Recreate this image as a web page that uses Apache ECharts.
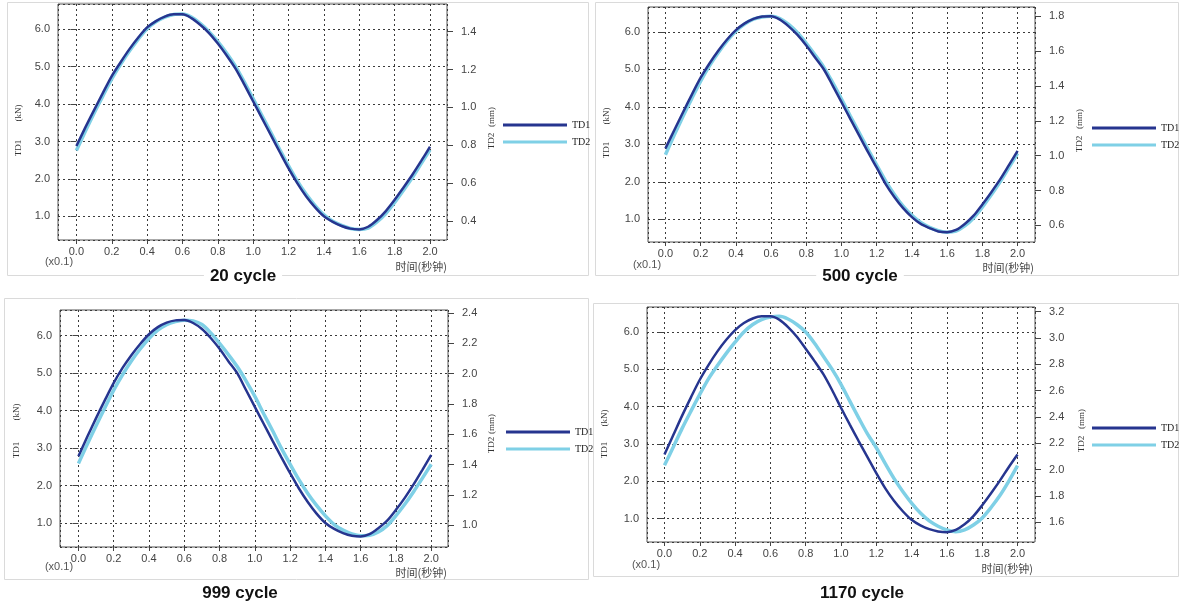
<!DOCTYPE html>
<html>
<head>
<meta charset="utf-8">
<script src="https://cdn.jsdelivr.net/npm/echarts@6/dist/echarts.min.js"></script>
<style>
  html, body { margin: 0; padding: 0; background: #fff; }
  #chart { width: 1180px; height: 605px; }
</style>
</head>
<body>
<div id="chart"></div>
<script>
// 时间 (x0.1 秒)
const timeData = [0, 0.05, 0.1, 0.15, 0.2, 0.25, 0.3, 0.35, 0.4, 0.45, 0.5, 0.55, 0.6, 0.65, 0.7, 0.75, 0.8, 0.85, 0.9, 0.95,
  1, 1.05, 1.1, 1.15, 1.2, 1.25, 1.3, 1.35, 1.4, 1.45, 1.5, 1.55, 1.6, 1.65, 1.7, 1.75, 1.8, 1.85, 1.9, 1.95, 2];

const cycleTitles = ["20 cycle", "500 cycle", "999 cycle", "1170 cycle"];
const seriesNames = ["TD1", "TD2"];

// TD1 (kN) 左轴
const td1Cycle20 = [2.88, 3.37, 3.84, 4.3, 4.75, 5.12, 5.47, 5.78, 6.05, 6.22, 6.34, 6.4, 6.4, 6.3, 6.12, 5.9, 5.62, 5.3, 4.95, 4.52,
  4.07, 3.62, 3.17, 2.72, 2.28, 1.88, 1.53, 1.24, 1.0, 0.85, 0.74, 0.67, 0.65, 0.72, 0.9, 1.14, 1.44, 1.77, 2.11, 2.48, 2.86];
const td1Cycle500 = [2.89, 3.38, 3.86, 4.33, 4.78, 5.16, 5.5, 5.8, 6.05, 6.23, 6.35, 6.41, 6.42, 6.33, 6.15, 5.92, 5.64, 5.32, 5.0, 4.57,
  4.13, 3.68, 3.24, 2.8, 2.38, 1.95, 1.6, 1.3, 1.06, 0.88, 0.77, 0.68, 0.66, 0.72, 0.88, 1.1, 1.4, 1.72, 2.06, 2.44, 2.83];
const td1Cycle999 = [2.78, 3.3, 3.8, 4.28, 4.74, 5.14, 5.48, 5.78, 6.04, 6.23, 6.35, 6.41, 6.42, 6.34, 6.18, 5.94, 5.65, 5.32, 5.0, 4.55,
  4.1, 3.65, 3.2, 2.76, 2.33, 1.92, 1.56, 1.25, 1.0, 0.84, 0.73, 0.66, 0.64, 0.7, 0.86, 1.06, 1.35, 1.67, 2.03, 2.42, 2.82];
const td1Cycle1170 = [2.72, 3.24, 3.76, 4.25, 4.72, 5.12, 5.48, 5.79, 6.05, 6.24, 6.36, 6.42, 6.42, 6.33, 6.13, 5.87, 5.55, 5.22, 4.87, 4.44,
  3.97, 3.52, 3.08, 2.65, 2.22, 1.82, 1.48, 1.2, 0.97, 0.82, 0.72, 0.66, 0.64, 0.7, 0.85, 1.07, 1.36, 1.68, 2.02, 2.38, 2.72];

// TD2 (mm) 右轴
const td2Cycle20 = [0.772, 0.873, 0.970, 1.061, 1.151, 1.228, 1.298, 1.361, 1.416, 1.452, 1.477, 1.491, 1.493, 1.477, 1.444, 1.400, 1.347, 1.286, 1.217, 1.134,
  1.045, 0.956, 0.867, 0.778, 0.691, 0.610, 0.541, 0.482, 0.433, 0.399, 0.377, 0.361, 0.356, 0.363, 0.395, 0.440, 0.498, 0.563, 0.630, 0.703, 0.776];
const td2Cycle500 = [1.006, 1.118, 1.226, 1.329, 1.428, 1.516, 1.591, 1.658, 1.714, 1.755, 1.783, 1.796, 1.800, 1.787, 1.753, 1.705, 1.645, 1.578, 1.507, 1.419,
  1.325, 1.228, 1.133, 1.038, 0.946, 0.856, 0.778, 0.711, 0.658, 0.617, 0.589, 0.570, 0.561, 0.567, 0.597, 0.643, 0.705, 0.774, 0.849, 0.931, 1.013];
const td2Cycle999 = [1.408, 1.534, 1.657, 1.776, 1.892, 1.993, 2.084, 2.163, 2.232, 2.287, 2.324, 2.343, 2.353, 2.348, 2.324, 2.269, 2.200, 2.126, 2.047, 1.953,
  1.850, 1.736, 1.625, 1.509, 1.403, 1.301, 1.210, 1.131, 1.062, 1.005, 0.968, 0.943, 0.931, 0.934, 0.956, 0.998, 1.064, 1.139, 1.222, 1.311, 1.403];
const td2Cycle1170 = [2.034, 2.172, 2.314, 2.445, 2.572, 2.692, 2.791, 2.884, 2.969, 3.046, 3.103, 3.140, 3.159, 3.165, 3.145, 3.103, 3.046, 2.961, 2.862, 2.762,
  2.649, 2.521, 2.394, 2.272, 2.167, 2.048, 1.934, 1.835, 1.747, 1.671, 1.611, 1.571, 1.543, 1.529, 1.543, 1.580, 1.634, 1.713, 1.804, 1.912, 2.031];

const td1List = [td1Cycle20, td1Cycle500, td1Cycle999, td1Cycle1170];
const td2List = [td2Cycle20, td2Cycle500, td2Cycle999, td2Cycle1170];

// 每个小图的位置和坐标范围
const panels = [
  { grid: [58, 4, 389, 236], x: [-0.104, 2.096], yL: [0.366, 6.677], yR: [0.300, 1.546], rSplit: 6,
    frame: [7, 2, 581, 273], title: [243, 276], legend: [503, 119],
    nameL: [19, 148, 113], nameR: [492, 141, 117], unit: [59, 262], time: [447, 267] },
  { grid: [648, 7, 387, 235], x: [-0.099, 2.099], yL: [0.398, 6.666], yR: [0.505, 1.853], rSplit: 6,
    frame: [595, 2, 583, 273], title: [860, 276], legend: [1092, 122],
    nameL: [607, 150, 116], nameR: [1080, 144, 119], unit: [647, 265], time: [1034, 268] },
  { grid: [60, 310, 388, 237], x: [-0.1045, 2.095], yL: [0.358, 6.687], yR: [0.857, 2.420], rSplit: 7,
    frame: [4, 298, 584, 281], title: [240, 593], legend: [506, 426],
    nameL: [17, 450, 412], nameR: [492, 445, 424], unit: [59, 567], time: [447, 573] },
  { grid: [647, 307, 388, 235], x: [-0.099, 2.099], yL: [0.377, 6.668], yR: [1.451, 3.236], rSplit: 8,
    frame: [593, 303, 585, 273], title: [862, 593], legend: [1092, 422],
    nameL: [605, 450, 418], nameR: [1082, 444, 419], unit: [646, 565], time: [1033, 569] }
];

const td1Color = "#26358f";
const td2Color = "#7fd0e6";
const gridLine = { color: "#3a3a3a", width: 1, type: [2, 3] };
const labelFont = { color: "#444", fontSize: 11, fontFamily: "Liberation Sans" };
const fmt = v => v.toFixed(1);

const grids = [], xAxes = [], yAxes = [], series = [], legends = [], graphics = [];

panels.forEach((p, i) => {
  grids.push({
    left: p.grid[0], top: p.grid[1], width: p.grid[2], height: p.grid[3],
    show: true, borderColor: "#555", borderWidth: 1, backgroundColor: "#fff"
  });
  xAxes.push({
    type: "value", gridIndex: i, min: p.x[0], max: p.x[1], splitNumber: 10,
    axisLine: { show: false },
    axisTick: { show: true, length: 4, lineStyle: { color: "#444" } },
    axisLabel: Object.assign({ margin: 6, formatter: fmt, showMinLabel: false, showMaxLabel: false }, labelFont),
    splitLine: { show: true, lineStyle: gridLine }
  });
  yAxes.push({
    type: "value", gridIndex: i, position: "left", min: p.yL[0], max: p.yL[1], splitNumber: 6,
    axisLine: { show: false },
    axisTick: { show: true, length: 6, lineStyle: { color: "#444" } },
    axisLabel: Object.assign({ margin: 8, formatter: fmt, showMinLabel: false, showMaxLabel: false }, labelFont),
    splitLine: { show: true, lineStyle: gridLine }
  });
  yAxes.push({
    type: "value", gridIndex: i, position: "right", min: p.yR[0], max: p.yR[1], splitNumber: p.rSplit,
    axisLine: { show: false },
    axisTick: { show: true, length: 6, lineStyle: { color: "#444" } },
    axisLabel: Object.assign({ margin: 14, formatter: fmt, showMinLabel: false, showMaxLabel: false }, labelFont),
    splitLine: { show: false }
  });

  series.push({
    name: "TD2", type: "line", xAxisIndex: i, yAxisIndex: i * 2 + 1,
    data: timeData.map((t, k) => [t, td2List[i][k]]),
    showSymbol: false, smooth: 0.3, color: td2Color,
    lineStyle: { width: 3.5, color: td2Color }
  });
  series.push({
    name: "TD1", type: "line", xAxisIndex: i, yAxisIndex: i * 2,
    data: timeData.map((t, k) => [t, td1List[i][k]]),
    showSymbol: false, smooth: 0.3, color: td1Color,
    lineStyle: { width: 2.5, color: td1Color }
  });

  legends.push({
    data: seriesNames, orient: "vertical", left: p.legend[0], top: p.legend[1],
    padding: 0, icon: "rect", itemWidth: 64, itemHeight: 3, itemGap: 5,
    textStyle: { fontFamily: "Liberation Serif", fontSize: 10, color: "#222", lineHeight: 12, overflow: "none" }
  });

  // 外框
  graphics.push({
    type: "rect", z: -10, silent: true,
    shape: { x: p.frame[0] + 0.5, y: p.frame[1] + 0.5, width: p.frame[2], height: p.frame[3] },
    style: { fill: null, stroke: "#dadada", lineWidth: 1 }
  });
  // 轴名称
  const nameStyle = { fontFamily: "Liberation Serif", fontSize: 9, fill: "#333", align: "center", verticalAlign: "middle" };
  graphics.push({ type: "text", x: p.nameL[0], y: p.nameL[1], rotation: Math.PI / 2, style: Object.assign({ text: "TD1" }, nameStyle) });
  graphics.push({ type: "text", x: p.nameL[0], y: p.nameL[2], rotation: Math.PI / 2, style: Object.assign({ text: "(kN)" }, nameStyle) });
  graphics.push({ type: "text", x: p.nameR[0], y: p.nameR[1], rotation: Math.PI / 2, style: Object.assign({ text: "TD2" }, nameStyle) });
  graphics.push({ type: "text", x: p.nameR[0], y: p.nameR[2], rotation: Math.PI / 2, style: Object.assign({ text: "(mm)" }, nameStyle) });
  graphics.push({
    type: "text", x: p.unit[0], y: p.unit[1],
    style: { text: "(x0.1)", fontFamily: "Liberation Sans", fontSize: 11, fill: "#555", align: "center", verticalAlign: "middle" }
  });
  graphics.push({
    type: "text", x: p.time[0], y: p.time[1],
    style: { text: "时间(秒钟)", fontFamily: "Noto Sans CJK SC", fontSize: 11, fill: "#444", align: "right", verticalAlign: "middle" }
  });
  graphics.push({
    type: "text", x: p.title[0], y: p.title[1], z: 10,
    style: {
      text: cycleTitles[i], fontFamily: "Liberation Sans", fontSize: 17, fontWeight: "bold", fill: "#111",
      align: "center", verticalAlign: "middle", backgroundColor: "#fff", padding: [1, 6]
    }
  });
});

const myChart = echarts.init(document.getElementById("chart"));
myChart.setOption({
  backgroundColor: "#fff",
  animation: false,
  grid: grids,
  xAxis: xAxes,
  yAxis: yAxes,
  legend: legends,
  series: series,
  graphic: graphics
});
</script>
</body>
</html>
